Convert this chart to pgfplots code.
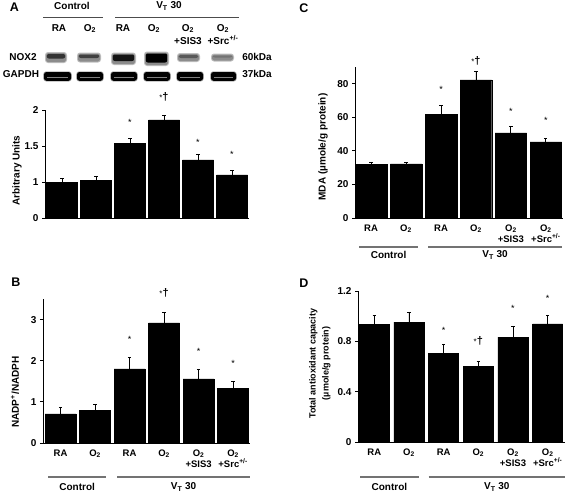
\documentclass[border=0pt]{standalone}
\usepackage{fontspec}
\setmainfont{Liberation Sans}
\usepackage{pgfplots}
\pgfplotsset{compat=1.18}
\newcommand{\Ot}{O\textsubscript{2}}
\newcommand{\VT}{V\textsubscript{T} 30}
\pgfplotsset{
  panel/.style={
    scale only axis, anchor=south west,
    axis lines*=left, axis line style={line width=0.9pt,-},
    clip mode=individual,
    xtick={0,1,2,3,4,5},
    xtick style={draw=none},
    ytick style={line width=0.9pt, black},
    tick align=outside, major tick length=3pt,
    tick label style={font=\fontsize{10}{11}\selectfont\bfseries},
    xticklabel style={align=center, font=\fontsize{9.5}{11}\selectfont\bfseries},
    /pgf/number format/assume math mode=true,
    label style={font=\fontsize{10}{11}\selectfont\bfseries},
  },
  bars/.style={ybar, bar shift=0pt, fill=black, draw=black,
    error bars/.cd, y dir=plus, y explicit,
    error bar style={line width=0.9pt, black},
    error mark options={rotate=90, mark size=1.6pt, line width=0.9pt, black}},
  grplabels/.style={xticklabels={RA,\Ot,RA,\Ot,{\Ot\\+SIS3},{\Ot\\+Src\textsuperscript{+/-}}}},
}
\newcommand{\st}[2]{\node[anchor=base, yshift=-5pt, font=\fontsize{9}{9}\selectfont] at (axis cs:#1,#2) {*};}
\newcommand{\sd}[2]{\node[anchor=base, yshift=-3pt, inner sep=0pt] at (axis cs:#1,#2) {{\fontsize{8}{8}\selectfont*}{\fontsize{11}{11}\selectfont\bfseries †}};}
\newcommand{\groups}[6]{%
  \draw[black!55, line width=1.2pt] ([yshift=-#5pt]axis cs:#1,0) -- ([yshift=-#5pt]axis cs:#2,0);
  \draw[black!55, line width=1.2pt] ([yshift=-#5pt]axis cs:#3,0) -- ([yshift=-#5pt]axis cs:#4,0);
  \node[font=\fontsize{10}{11}\selectfont\bfseries] at ([yshift=-#6pt]axis cs:{(#1+#2)/2},0) {Control};
  \node[font=\fontsize{10}{11}\selectfont\bfseries] at ([yshift=-#6pt]axis cs:{(#3+#4)/2},0) {\VT};
}
\begin{document}
\begin{tikzpicture}
\path[use as bounding box] (0,0) rectangle (567pt,-493pt);
\tikzset{lbl/.style={font=\fontsize{10}{11}\selectfont\bfseries, inner sep=0pt}}
% panel letters
\node[font=\fontsize{12.5}{13}\selectfont\bfseries] at (14.5pt,-7.5pt) {A};
\node[font=\fontsize{12.5}{13}\selectfont\bfseries] at (304pt,-8.5pt) {C};
\node[font=\fontsize{12.5}{13}\selectfont\bfseries] at (16pt,-282.5pt) {B};
\node[font=\fontsize{12.5}{13}\selectfont\bfseries] at (304pt,-283pt) {D};
% panel A header
\begin{scope}[x=1pt,y=-1pt]
\node[lbl] at (72,6) {Control};
\node[lbl] at (169,6) {\VT};
\draw[black!70, line width=1pt] (43,17.3) -- (103,17.3);
\draw[black!70, line width=1pt] (115,17.3) -- (239,17.3);
\foreach \x/\t in {59/RA,90/\Ot,123/RA,154/\Ot,188/\Ot,223/\Ot}{\node[lbl, anchor=base] at (\x,31) {\t};}
\node[lbl, anchor=base] at (188,44.5) {+SIS3};
\node[lbl, anchor=base] at (223,44.5) {+Src\textsuperscript{+/-}};
\node[lbl] at (23,57) {NOX2};
\node[lbl] at (21,74) {GAPDH};
\node[lbl] at (257,57) {60kDa};
\node[lbl] at (257,74) {37kDa};
% NOX2 bands: x1/x2/top/bottom/core darkness/core bottom
\foreach \a/\b/\t/\u/\c/\k in {46/66/52/63/80/58.5,78/100/52.5/62.5/75/58,112/135/52.5/65/92/61,145/168/51.5/66/100/62.5,178/199/53/62/65/58,212/233/53.5/61.5/55/57.5}{
  \fill[black!25, rounded corners=3pt] (\a-1,\t) rectangle (\b+1,\u);
  \fill[black!45, rounded corners=2.5pt] (\a,\t+1) rectangle (\b,\u-0.8);
  \fill[black!\c, rounded corners=2pt] (\a+0.8,\t+2) rectangle (\b-0.8,\k);
}
% GAPDH bands
\foreach \a/\b in {44/71,77/103,111/137,144/170,177/203,211/236}{
  \fill[black!30, rounded corners=3pt] (\a-0.8,71.3) rectangle (\b+0.8,81.5);
  \fill[black, rounded corners=2.5pt] (\a,72) rectangle (\b,80.8);
  \draw[black!50, line width=0.7pt] (\a+3,77.4) -- (\b-3,77.4);
}
\end{scope}
% ---------- A ----------
\begin{axis}[panel, at={(45pt,-218pt)}, width=204pt, height=108pt,
  xmin=-0.5, xmax=5.5, ymin=0.5, ymax=2,
  ytick={0.5,1,1.5,2}, yticklabels={0,1,1.5,2}, xticklabels={},
  ylabel={Arbitrary Units},
  ylabel style={at={(axis description cs:-0.137,0.44)}, anchor=center}]
\addplot[bar width=31pt, bars] coordinates {(0,0.994) +- (0,0.06) (1,1.022) +- (0,0.06) (2,1.539) +- (0,0.069) (3,1.862) +- (0,0.06) (4,1.308) +- (0,0.069) (5,1.10) +- (0,0.055)};
\st{2}{1.86}\sd{3}{2.17}\st{4}{1.58}\st{5}{1.41}
\end{axis}
% ---------- C ----------
\begin{axis}[panel, grplabels, at={(355pt,-218pt)}, width=208pt, height=151pt,
  xmin=-0.46, xmax=5.49, ymin=0, ymax=90,
  ytick={0,20,40,60,80},
  ylabel={MDA (µmole/g protein)},
  ylabel style={at={(axis description cs:-0.154,0.47)}, anchor=center}]
\addplot[bar width=31.5pt, bars] coordinates {(0,32.0) +- (0,1.2) (1,32.2) +- (0,1.0) (2,61.6) +- (0,5.2) (3,82.4) +- (0,4.9) (4,50.8) +- (0,3.9) (5,45.4) +- (0,2.0)};
\st{2}{77.9}\sd{3}{93.2}\st{4}{64.8}\st{5}{59.4}
\groups{-0.34}{1.34}{1.63}{5.46}{29}{37}
\end{axis}
% ---------- B ----------
\begin{axis}[panel, grplabels, at={(43pt,-443pt)}, width=207pt, height=144pt,
  xmin=-0.51, xmax=5.49, ymin=0, ymax=3.5,
  ytick={0,1,2,3},
  ylabel={NADP\textsuperscript{+}/NADPH},
  ylabel style={at={(axis description cs:-0.135,0.354)}, anchor=center}]
\addplot[bar width=31pt, bars] coordinates {(0,0.71) +- (0,0.16) (1,0.79) +- (0,0.14) (2,1.80) +- (0,0.27) (3,2.92) +- (0,0.26) (4,1.56) +- (0,0.22) (5,1.33) +- (0,0.17)};
\st{2}{2.57}\sd{3}{3.64}\st{4}{2.28}\st{5}{1.99}
\groups{-0.36}{1.32}{1.64}{5.49}{34}{44}
\end{axis}
% ---------- D ----------
\begin{axis}[panel, grplabels, at={(358pt,-442pt)}, width=207pt, height=151pt,
  xmin=-0.47, xmax=5.5, ymin=0, ymax=1.2,
  ytick={0,0.4,0.8,1.2},
  ylabel={Total antioxidant capacity\\(µmole/g protein)},
  ylabel style={at={(axis description cs:-0.184,0.52)}, anchor=center, align=center, font=\fontsize{9}{13}\selectfont\bfseries}]
\addplot[bar width=30pt, bars] coordinates {(0,0.934) +- (0,0.071) (1,0.953) +- (0,0.073) (2,0.703) +- (0,0.071) (3,0.603) +- (0,0.039) (4,0.834) +- (0,0.087) (5,0.939) +- (0,0.066)};
\st{2}{0.90}\sd{3}{0.80}\st{4}{1.079}\st{5}{1.158}
\groups{-0.41}{1.28}{1.57}{5.5}{35}{45}
\end{axis}
\end{tikzpicture}
\end{document}
